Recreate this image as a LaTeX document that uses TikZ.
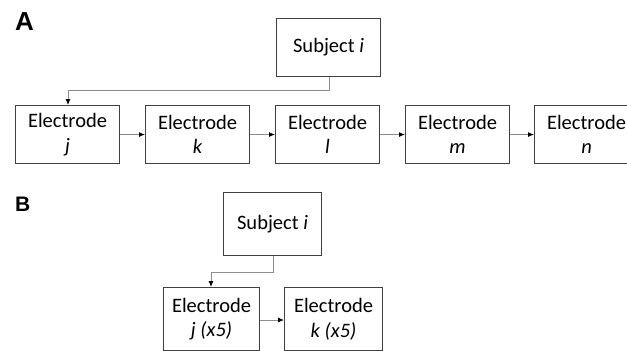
\documentclass[tikz,border=0pt]{standalone}
\usepackage{fontspec}
\setmainfont{Carlito}
\newfontfamily\lblfont{Liberation Sans}
\usetikzlibrary{arrows.meta}
\begin{document}
\begin{tikzpicture}[x=1pt,y=-1pt,
  box/.style={draw=black!75,line width=1.1pt,minimum width=104pt,minimum height=58pt,inner sep=0pt,align=center,font=\fontsize{20.5}{24.5}\selectfont,anchor=north west},
  conn/.style={draw=black!45,line width=0.9pt,-{Latex[length=6pt,width=5pt,fill=black,color=black]}},
  lbl/.style={font=\lblfont\bfseries,anchor=north west,inner sep=0pt}]
\useasboundingbox (0,0) rectangle (627,351);
\node[lbl,font=\lblfont\bfseries\fontsize{26}{26}\selectfont] (la) at (15,12) {A};
\node[lbl,font=\lblfont\bfseries\fontsize{21}{21}\selectfont] (lb) at (15,197) {B};
% panel A
\node[box] (sa) at (276,18) {Subject \textit{i}};
\node[box] (ej) at (15,105) {Electrode\\\textit{j}};
\node[box] (ek) at (145,105) {Electrode\\\textit{k}};
\node[box] (el) at (275,105) {Electrode\\\textit{l}};
\node[box] (em) at (405,105) {Electrode\\\textit{m}};
\begin{scope}
\clip (0,0) rectangle (627,351);
\node[box] (en) at (534,105) {Electrode\\\textit{n}};
\end{scope}
\coordinate (ca) at (329,90);
\draw[conn] (sa.south -| ca) -- (ca) -| (ej.north -| 68,0);
\draw[conn] (ej) -- (ek);
\draw[conn] (ek) -- (el);
\draw[conn] (el) -- (em);
\draw[conn] (em) -- (en.west);
% panel B
\node[box,minimum width=98pt,minimum height=63pt] (sb) at (223,192) {Subject \textit{i}};
\node[box,minimum width=96pt,minimum height=63pt] (bj) at (163,287) {Electrode\\\textit{j (x5)}};
\node[box,minimum width=98pt,minimum height=63pt] (bk) at (284,287) {Electrode\\\textit{k (x5)}};
\coordinate (cb) at (273,272);
\draw[conn] (sb.south -| cb) -- (cb) -| (bj.north -| 211,0);
\draw[conn] (bj.east |- 0,320) -- (bk.west |- 0,320);
\end{tikzpicture}
\end{document}
